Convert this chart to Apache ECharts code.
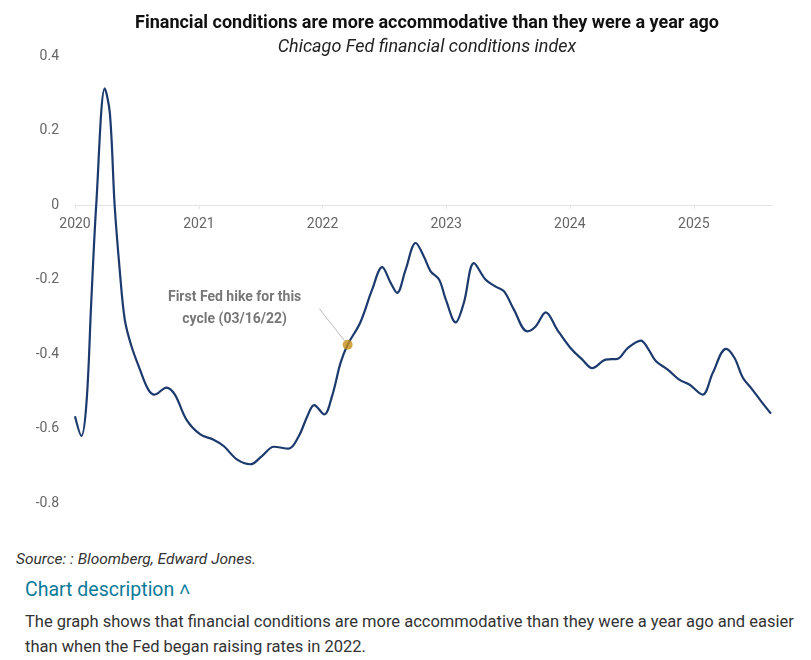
<!DOCTYPE html>
<html>
<head>
<meta charset="utf-8">
<script src="https://cdn.jsdelivr.net/npm/echarts@6/dist/echarts.min.js"></script>
<style>
  body { margin: 0; background: #fff; font-family: Roboto, sans-serif; }
  #chart { position: absolute; left: 0; top: 0; width: 811px; height: 545px; }
  .source { position: absolute; left: 16px; top: 550px; font-size: 15.5px; font-style: italic; color: #333; }
  .desc-title { position: absolute; left: 25px; top: 578px; font-size: 19.5px; color: #0b7a99; }
  .desc { position: absolute; left: 25px; top: 609px; width: 785px; font-size: 16.5px; line-height: 25px; color: #333; }
</style>
</head>
<body>
<div id="chart"></div>
<div class="source">Source: : Bloomberg, Edward Jones.</div>
<div class="desc-title">Chart description &#x2c4;</div>
<div class="desc">The graph shows that financial conditions are more accommodative than they were a year ago and easier than when the Fed began raising rates in 2022.</div>
<script>
const FONT = 'Roboto, sans-serif';

const dates = [
    '2020-01-01', '2020-01-20', '2020-02-04', '2020-02-18', '2020-03-04', '2020-03-29',
    '2020-04-13', '2020-04-27', '2020-05-12', '2020-05-27', '2020-06-16', '2020-07-10',
    '2020-08-04', '2020-08-23', '2020-09-27', '2020-10-22', '2020-11-25', '2021-01-05',
    '2021-02-13', '2021-03-15', '2021-04-23', '2021-06-02', '2021-07-06', '2021-08-10',
    '2021-09-23', '2021-10-23', '2021-11-17', '2021-12-07', '2022-01-06', '2022-01-29',
    '2022-02-23', '2022-03-16', '2022-04-22', '2022-05-27', '2022-06-26', '2022-07-21',
    '2022-08-09', '2022-09-03', '2022-10-03', '2022-10-27', '2022-11-16', '2022-12-11',
    '2022-12-31', '2023-01-29', '2023-02-22', '2023-03-24', '2023-04-27', '2023-05-27',
    '2023-06-21', '2023-07-20', '2023-08-28', '2023-09-22', '2023-10-22', '2023-11-25',
    '2024-01-03', '2024-02-07', '2024-03-07', '2024-04-16', '2024-05-21', '2024-06-20',
    '2024-07-29', '2024-08-18', '2024-09-11', '2024-10-16', '2024-11-19', '2024-12-19',
    '2025-01-27', '2025-02-26', '2025-04-06', '2025-05-01', '2025-05-26', '2025-06-19',
    '2025-07-19', '2025-08-17'
];

const nfci = [
    -0.567, -0.62, -0.53, -0.26, 0.005, 0.313,
    0.246, 0.0, -0.174, -0.308, -0.38, -0.44,
    -0.495, -0.509, -0.49, -0.509, -0.576, -0.616,
    -0.63, -0.647, -0.683, -0.696, -0.674, -0.649,
    -0.654, -0.62, -0.567, -0.537, -0.562, -0.513,
    -0.424, -0.375, -0.316, -0.228, -0.167, -0.209,
    -0.236, -0.174, -0.102, -0.138, -0.178, -0.2,
    -0.254, -0.315, -0.263, -0.156, -0.2, -0.219,
    -0.232, -0.281, -0.339, -0.326, -0.288, -0.335,
    -0.384, -0.415, -0.438, -0.415, -0.413, -0.384,
    -0.364, -0.384, -0.419, -0.442, -0.469, -0.482,
    -0.509, -0.451, -0.386, -0.41, -0.464, -0.491,
    -0.527, -0.56
];

const hikeDate = '2022-03-16';
const hikeValue = -0.375;
const hikeLabel = 'First Fed hike for this\ncycle (03/16/22)';

const DAY = 24 * 3600 * 1000;
const chart = echarts.init(document.getElementById('chart'));

chart.setOption({
    animation: false,
    title: {
        text: 'Financial conditions are more accommodative than they were a year ago',
        subtext: 'Chicago Fed financial conditions index',
        left: 422,
        textAlign: 'center',
        top: 9,
        itemGap: 6,
        textStyle: {fontFamily: FONT, fontSize: 18, fontWeight: 'bold', color: '#111'},
        subtextStyle: {fontFamily: FONT, fontSize: 18, fontStyle: 'italic', color: '#222'}
    },
    grid: {left: 75, right: 39, top: 56, bottom: 42},
    xAxis: {
        type: 'time',
        min: '2020-01-01',
        max: '2025-08-20',
        minInterval: 365 * DAY,
        maxInterval: 366 * DAY,
        // the axis sits on the zero line: 298px above the grid bottom
        offset: -298,
        axisLine: {onZero: false, lineStyle: {color: '#e3e3ec', width: 1}},
        axisTick: {show: true, length: 4, lineStyle: {color: '#e3e3ec'}},
        axisLabel: {
            formatter: '{yyyy}',
            color: '#666', fontSize: 14, fontFamily: FONT, margin: 12
        },
        splitLine: {show: false}
    },
    yAxis: {
        type: 'value',
        min: -0.8,
        max: 0.4,
        interval: 0.2,
        axisLine: {show: false},
        axisTick: {show: false},
        splitLine: {show: false},
        axisLabel: {
            formatter: v => (Math.round(v * 10) / 10) + '',
            color: '#666', fontSize: 14, fontFamily: FONT, margin: 16
        }
    },
    series: [
        {
            type: 'line',
            data: dates.map((d, i) => [d, nfci[i]]),
            smooth: 0.35,
            showSymbol: false,
            lineStyle: {color: '#1c3a6e', width: 2.2}
        },
        {
            type: 'scatter',
            data: [[hikeDate, hikeValue]],
            symbolSize: 10,
            itemStyle: {color: '#c88f1c'},
            z: 5,
            label: {
                show: true,
                formatter: hikeLabel,
                position: 'inside',
                align: 'center',
                fontFamily: FONT,
                fontSize: 14,
                fontWeight: 'bold',
                lineHeight: 22,
                color: '#555',
                padding: [0, 18, 0, 0]
            },
            labelLayout: {dx: -104, dy: -36},
            labelLine: {show: true, lineStyle: {color: '#bbb', width: 1}}
        }
    ]
});
</script>
</body>
</html>
